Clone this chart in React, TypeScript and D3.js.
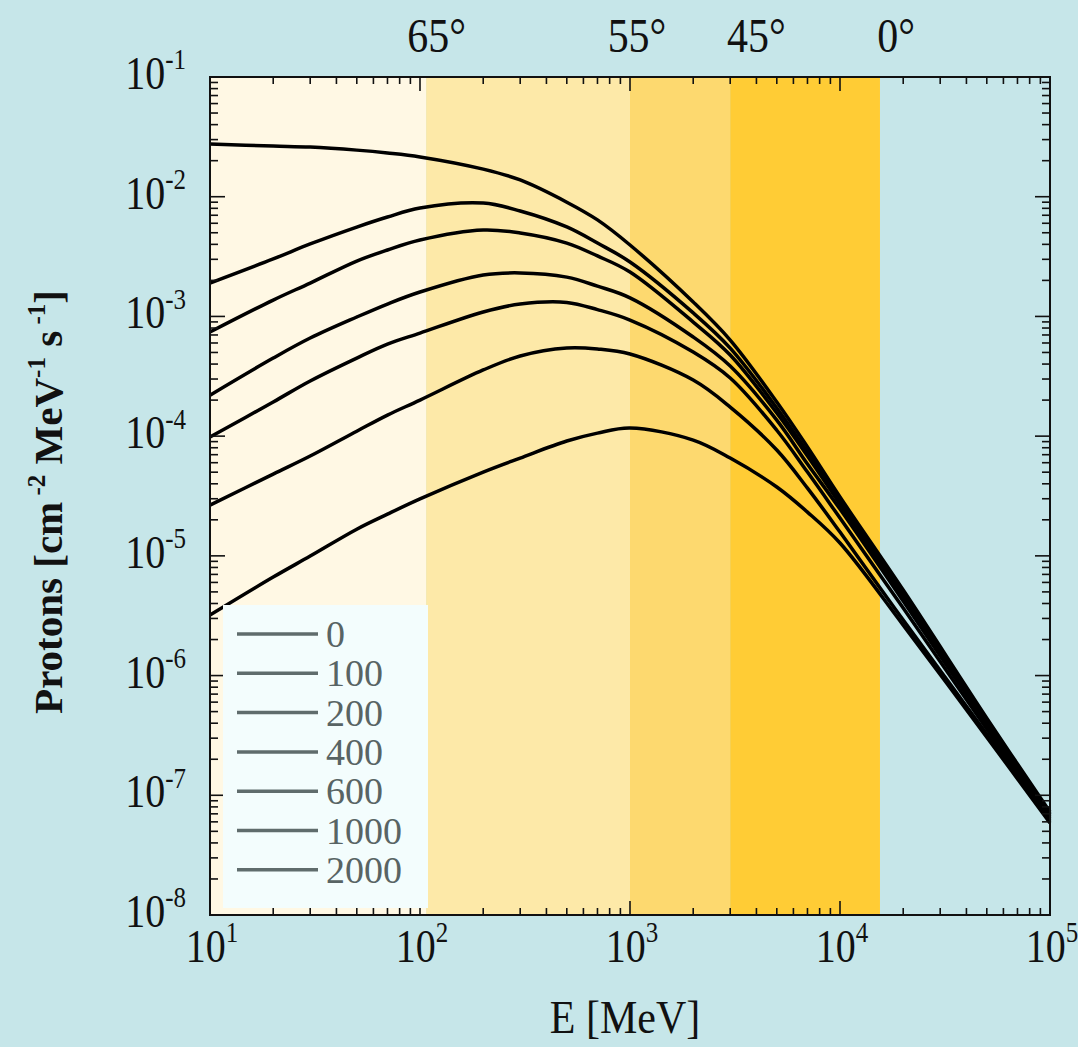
import { useEffect, useRef } from 'react';
import * as d3 from 'd3';

const energies = [10, 20, 30, 50, 70, 100, 200, 300, 500, 700, 1000, 2000, 3000, 5000, 7000, 10000, 20000, 50000, 100000];

// Proton flux [cm^-2 MeV^-1 s^-1] for each modulation value
const flux0 = [2.75e-2, 2.65e-2, 2.60e-2, 2.45e-2, 2.32e-2, 2.15e-2, 1.70e-2, 1.38e-2, 9.0e-3, 6.4e-3, 3.95e-3, 1.32e-3, 6.35e-4, 1.93e-4, 8.11e-5, 3.10e-5, 5.18e-6, 4.41e-7, 7.24e-8];
const flux100 = [1.90e-3, 3.02e-3, 4.03e-3, 5.58e-3, 6.77e-3, 8.05e-3, 8.86e-3, 7.60e-3, 5.59e-3, 4.10e-3, 2.85e-3, 1.07e-3, 5.44e-4, 1.72e-4, 7.36e-5, 2.92e-5, 4.89e-6, 4.25e-7, 6.97e-8];
const flux200 = [7.41e-4, 1.37e-3, 1.90e-3, 2.90e-3, 3.59e-3, 4.35e-3, 5.27e-3, 4.98e-3, 4.10e-3, 3.20e-3, 2.35e-3, 8.97e-4, 4.76e-4, 1.56e-4, 6.82e-5, 2.71e-5, 4.53e-6, 4.08e-7, 6.84e-8];
const flux400 = [2.20e-4, 4.49e-4, 6.60e-4, 9.89e-4, 1.27e-3, 1.60e-3, 2.22e-3, 2.31e-3, 2.13e-3, 1.79e-3, 1.43e-3, 6.73e-4, 3.85e-4, 1.36e-4, 5.85e-5, 2.46e-5, 4.19e-6, 3.86e-7, 6.58e-8];
const flux600 = [9.82e-5, 1.93e-4, 2.89e-4, 4.49e-4, 5.87e-4, 7.26e-4, 1.09e-3, 1.27e-3, 1.31e-3, 1.14e-3, 9.33e-4, 5.04e-4, 3.06e-4, 1.12e-4, 5.01e-5, 2.07e-5, 3.66e-6, 3.57e-7, 6.33e-8];
const flux1000 = [2.65e-5, 4.82e-5, 6.82e-5, 1.10e-4, 1.50e-4, 2.00e-4, 3.57e-4, 4.67e-4, 5.44e-4, 5.34e-4, 4.85e-4, 2.94e-4, 1.75e-4, 7.66e-5, 3.68e-5, 1.58e-5, 2.91e-6, 3.25e-7, 6.10e-8];
const flux2000 = [3.20e-6, 6.65e-6, 9.96e-6, 1.67e-5, 2.23e-5, 2.99e-5, 5.01e-5, 6.56e-5, 9.10e-5, 1.06e-4, 1.17e-4, 9.27e-5, 6.56e-5, 3.76e-5, 2.32e-5, 1.28e-5, 2.64e-6, 3.06e-7, 5.86e-8];

const legendLabels = ['0', '100', '200', '400', '600', '1000', '2000'];
const seriesFlux = [flux0, flux100, flux200, flux400, flux600, flux1000, flux2000];

// Latitude bands (energy edges in MeV)
const bandEdges = [10, 107, 1000, 3000, 15500];
const bandColors = ['#fff8e4', '#fde9a8', '#fdd96f', '#ffcc35'];
const latLabels = ['65°', '55°', '45°', '0°'];
const latLabelEnergy = [120, 1080, 4000, 18500];

const xDecades = [1, 2, 3, 4, 5];
const yDecades = [-1, -2, -3, -4, -5, -6, -7, -8];

const W = 1078;
const H = 1047;
const FONT = '"Liberation Serif", "Times New Roman", serif';

export default function App() {
  const svgRef = useRef<SVGSVGElement>(null);

  useEffect(() => {
    const svg = d3.select(svgRef.current);
    svg.selectAll('*').remove();

    const left = 210, right = 1050, top = 77, bottom = 915;
    const x = d3.scaleLog().domain([1e1, 1e5]).range([left, right]);
    const y = d3.scaleLog().domain([1e-8, 1e-1]).range([bottom, top]);

    // fond
    svg.append('rect').attr('width', W).attr('height', H).attr('fill', '#c6e6e9');

    // bandes de latitude
    bandColors.forEach((c, i) => {
      svg.append('rect')
        .attr('x', x(bandEdges[i]))
        .attr('y', top)
        .attr('width', x(bandEdges[i + 1]) - x(bandEdges[i]))
        .attr('height', bottom - top)
        .attr('fill', c);
    });

    // courbes
    const line = d3.line<number>()
      .x((_, i) => x(energies[i]))
      .y(d => y(d))
      .curve(d3.curveCatmullRom.alpha(0.5));

    seriesFlux.forEach(f => {
      svg.append('path')
        .attr('d', line(f))
        .attr('fill', 'none')
        .attr('stroke', '#000')
        .attr('stroke-width', 3.5);
    });

    // ticks (inward, all four sides)
    const tickG = svg.append('g').attr('stroke', '#111').attr('stroke-width', 1.6);
    const isMajor = (v: number) => Math.abs(Math.log10(v) - Math.round(Math.log10(v))) < 1e-6;
    x.ticks().forEach(v => {
      const len = isMajor(v) ? 14 : 7;
      const px = x(v);
      tickG.append('line').attr('x1', px).attr('x2', px).attr('y1', bottom).attr('y2', bottom - len);
      tickG.append('line').attr('x1', px).attr('x2', px).attr('y1', top).attr('y2', top + len);
    });
    y.ticks().forEach(v => {
      const len = isMajor(v) ? 15 : 8;
      const py = y(v);
      tickG.append('line').attr('x1', left).attr('x2', left + len).attr('y1', py).attr('y2', py);
      tickG.append('line').attr('x1', right).attr('x2', right - len).attr('y1', py).attr('y2', py);
    });

    // legend
    svg.append('rect')
      .attr('x', 223).attr('y', 605)
      .attr('width', 205).attr('height', 303)
      .attr('fill', '#f3fdfd');
    legendLabels.forEach((lab, i) => {
      const ly = 634 + i * 39.3;
      svg.append('line')
        .attr('x1', 237).attr('x2', 318)
        .attr('y1', ly).attr('y2', ly)
        .attr('stroke', '#5f6c6c')
        .attr('stroke-width', 3.5);
      svg.append('text')
        .attr('x', 326).attr('y', ly + 13)
        .attr('font-family', FONT)
        .attr('font-size', 38)
        .attr('fill', '#586464')
        .text(lab);
    });

    // frame
    svg.append('rect')
      .attr('x', left).attr('y', top)
      .attr('width', right - left).attr('height', bottom - top)
      .attr('fill', 'none')
      .attr('stroke', '#111')
      .attr('stroke-width', 2);

    // helper: 10^n label
    const powLabel = (px: number, py: number, exp: number, anchor: string) => {
      const t = svg.append('text')
        .attr('transform', `translate(${px},${py}) scale(1,1.15)`)
        .attr('text-anchor', anchor)
        .attr('font-family', FONT)
        .attr('font-size', 40)
        .attr('fill', '#111');
      t.append('tspan').text('10');
      t.append('tspan').attr('dy', -17).attr('font-size', 25).text(String(exp));
    };

    xDecades.forEach(d => powLabel(x(Math.pow(10, d)) + 2, 962, d, 'middle'));
    yDecades.forEach(d => powLabel(186, y(Math.pow(10, d)) + 12, d, 'end'));

    // latitude labels
    latLabels.forEach((lab, i) => {
      svg.append('text')
        .attr('transform', `translate(${x(latLabelEnergy[i])},52) scale(1,1.15)`)
        .attr('text-anchor', 'middle')
        .attr('font-family', FONT)
        .attr('font-size', 42)
        .attr('fill', '#111')
        .text(lab);
    });

    // x label
    svg.append('text')
      .attr('transform', 'translate(625,1033) scale(1,1.08)')
      .attr('text-anchor', 'middle')
      .attr('font-family', FONT)
      .attr('font-size', 42)
      .attr('fill', '#111')
      .text('E [MeV]');

    // y label
    const yl = svg.append('text')
      .attr('transform', 'translate(62,502) rotate(-90)')
      .attr('text-anchor', 'middle')
      .attr('font-family', FONT)
      .attr('font-weight', 'bold')
      .attr('font-size', 41)
      .attr('fill', '#111');
    yl.append('tspan').text('Protons [cm');
    yl.append('tspan').attr('dy', -17).attr('font-size', 25).text(' -2');
    yl.append('tspan').attr('dy', 17).text(' MeV');
    yl.append('tspan').attr('dy', -17).attr('font-size', 25).text('-1');
    yl.append('tspan').attr('dy', 17).text(' s');
    yl.append('tspan').attr('dy', -17).attr('font-size', 25).text(' -1');
    yl.append('tspan').attr('dy', 17).text(']');
  }, []);

  return (
    <svg
      ref={svgRef}
      width={W}
      height={H}
      style={{ position: 'absolute', left: 0, top: 0, display: 'block' }}
    />
  );
}
